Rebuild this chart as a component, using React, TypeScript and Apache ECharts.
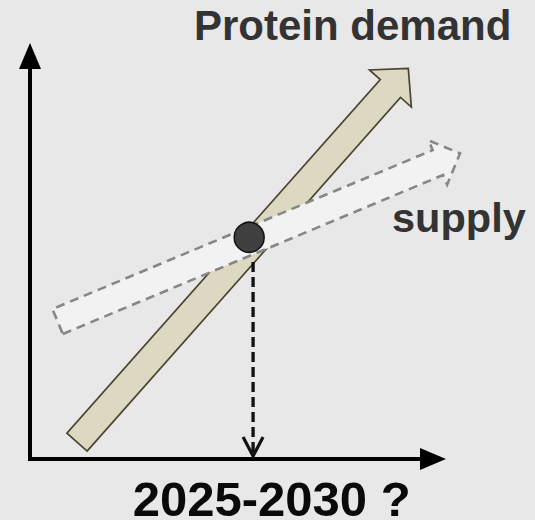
import React, { useEffect, useRef } from "react";
import * as echarts from "echarts";

// Conceptual diagram data (axis units 0..100 on both axes)
const demandArrow = [[12.05, 4.31, 97.0, 100.18]];
const supplyArrow = [[7.08, 35.26, 110.26, 78.38]];
const equilibrium = [[56.2, 56.85]];
const dropLine = [[57.2, 50.5, 57.2, 0.77]];
const labelTexts = ["Protein demand", "supply", "2025-2030 ?"];

type ArrowOpts = {
  shaft: number;
  headLen: number;
  headHalf: number;
  fill: string;
  stroke: string;
  lineWidth: number;
  lineDash?: number[];
};

function bandArrow(opts: ArrowOpts) {
  return (_params: any, api: any) => {
    const p0 = api.coord([api.value(0), api.value(1)]);
    const p1 = api.coord([api.value(2), api.value(3)]);
    const dx = p1[0] - p0[0];
    const dy = p1[1] - p0[1];
    const len = Math.hypot(dx, dy);
    const ux = dx / len;
    const uy = dy / len;
    const nx = -uy;
    const ny = ux;
    const bx = p1[0] - ux * opts.headLen;
    const by = p1[1] - uy * opts.headLen;
    const w = opts.shaft / 2;
    const H = opts.headHalf;
    const pts = [
      [p0[0] + nx * w, p0[1] + ny * w],
      [bx + nx * w, by + ny * w],
      [bx + nx * H, by + ny * H],
      [p1[0], p1[1]],
      [bx - nx * H, by - ny * H],
      [bx - nx * w, by - ny * w],
      [p0[0] - nx * w, p0[1] - ny * w],
    ];
    return {
      type: "polygon",
      shape: { points: pts },
      style: {
        fill: opts.fill,
        stroke: opts.stroke,
        lineWidth: opts.lineWidth,
        lineDash: opts.lineDash || null,
        lineJoin: "miter",
      },
    };
  };
}

function dropRender(_params: any, api: any) {
  const p0 = api.coord([api.value(0), api.value(1)]);
  const p1 = api.coord([api.value(2), api.value(3)]);
  return {
    type: "group",
    children: [
      {
        type: "line",
        shape: { x1: p0[0], y1: p0[1], x2: p1[0], y2: p1[1] - 2 },
        style: { stroke: "#111", lineWidth: 3.3, lineDash: [10, 5] },
      },
      {
        type: "polyline",
        shape: {
          points: [
            [p1[0] - 10, p1[1] - 19],
            [p1[0], p1[1]],
            [p1[0] + 10, p1[1] - 19],
          ],
        },
        style: { stroke: "#111", lineWidth: 3.2, fill: null },
      },
    ],
  };
}

const axisCommon = {
  type: "value" as const,
  min: 0,
  max: 100,
  axisLine: {
    show: true,
    onZero: false,
    symbol: ["none", "triangle"],
    symbolSize: [22, 26],
    symbolOffset: [0, 13],
    lineStyle: { color: "#000", width: 4, cap: "square" },
  },
  axisTick: { show: false },
  axisLabel: { show: false },
  splitLine: { show: false },
};

export default function App() {
  const ref = useRef<HTMLDivElement>(null);
  useEffect(() => {
    if (!ref.current) return;
    const chart = echarts.init(ref.current, undefined, { renderer: "svg" });
    chart.setOption({
      animation: false,
      backgroundColor: "#e8e8e8",
      grid: { left: 30, right: 115, top: 69, bottom: 61 },
      xAxis: axisCommon,
      yAxis: axisCommon,
      series: [
        {
          type: "custom",
          coordinateSystem: "cartesian2d",
          encode: { x: [0, 2], y: [1, 3] },
          clip: false,
          data: demandArrow,
          renderItem: bandArrow({
            shaft: 27,
            headLen: 27,
            headHalf: 28,
            fill: "#ddd8c1",
            stroke: "#4b4530",
            lineWidth: 1.7,
          }),
        },
        {
          type: "custom",
          coordinateSystem: "cartesian2d",
          encode: { x: [0, 2], y: [1, 3] },
          clip: false,
          data: supplyArrow,
          renderItem: bandArrow({
            shaft: 27,
            headLen: 24,
            headHalf: 24,
            fill: "#f2f2f2",
            stroke: "#878787",
            lineWidth: 2.6,
            lineDash: [9, 6],
          }),
        },
        {
          type: "custom",
          coordinateSystem: "cartesian2d",
          encode: { x: [0, 2], y: [1, 3] },
          clip: false,
          data: dropLine,
          renderItem: dropRender,
        },
        {
          type: "scatter",
          data: equilibrium,
          symbolSize: 30,
          itemStyle: { color: "#404040", borderColor: "#111", borderWidth: 1.5, opacity: 1 },
        },
      ],
      graphic: [
        {
          type: "text",
          x: 194,
          y: 25.5,
          style: {
            text: labelTexts[0],
            font: 'bold 42px "Liberation Sans", Arial, sans-serif',
            fill: "#333333",
            align: "left",
            verticalAlign: "middle",
          },
        },
        {
          type: "text",
          x: 392,
          y: 217.6,
          style: {
            text: labelTexts[1],
            font: 'bold 41.5px "Liberation Sans", Arial, sans-serif',
            fill: "#333333",
            align: "left",
            verticalAlign: "middle",
          },
        },
        {
          type: "text",
          x: 132.7,
          y: 499,
          style: {
            text: labelTexts[2],
            font: 'bold 49px "Liberation Sans", Arial, sans-serif',
            fill: "#0a0a0a",
            align: "left",
            verticalAlign: "middle",
          },
        },
      ],
    });
    return () => chart.dispose();
  }, []);
  return (
    <div
      ref={ref}
      style={{ position: "absolute", left: 0, top: 0, width: 535, height: 520 }}
    />
  );
}
